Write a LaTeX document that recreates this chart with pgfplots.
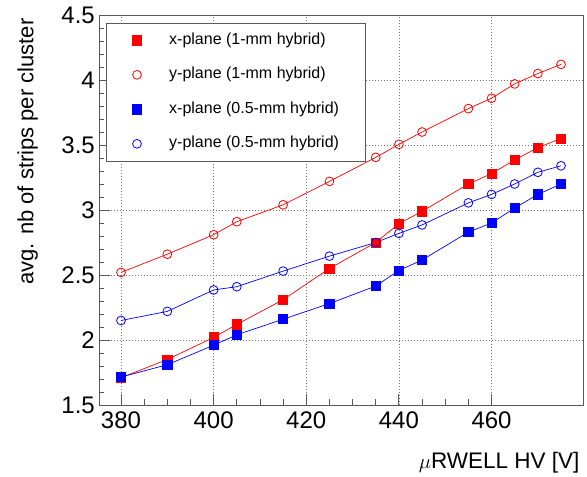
\documentclass[border=0pt]{standalone}
\usepackage{pgfplots}
\pgfplotsset{compat=1.18}
\usepackage{pgfplotstable}
\usepackage{fontspec}
\setmainfont{Liberation Sans}

\pgfplotstableread{
hv val
380 1.71
390 1.85
400 2.02
405 2.12
415 2.31
425 2.55
435 2.75
440 2.895
445 2.99
455 3.20
460 3.28
465 3.385
470 3.48
475 3.55
}\xone
\pgfplotstableread{
hv val
380 2.52
390 2.66
400 2.81
405 2.91
415 3.04
425 3.22
435 3.405
440 3.505
445 3.60
455 3.78
460 3.86
465 3.97
470 4.05
475 4.12
}\yone
\pgfplotstableread{
hv val
380 1.715
390 1.81
400 1.96
405 2.04
415 2.16
425 2.28
435 2.415
440 2.535
445 2.615
455 2.83
460 2.90
465 3.015
470 3.12
475 3.20
}\xhalf
\pgfplotstableread{
hv val
380 2.15
390 2.22
400 2.385
405 2.41
415 2.53
425 2.645
435 2.75
440 2.82
445 2.885
455 3.055
460 3.12
465 3.20
470 3.29
475 3.34
}\yhalf

\begin{document}
\begin{tikzpicture}
\path[use as bounding box] (-99pt,-72pt) rectangle (488pt,405pt);
\begin{axis}[
  at={(0pt,0pt)}, anchor=south west,
  scale only axis, width=484pt, height=390pt,
  xmin=375.25, xmax=479.75, ymin=1.5, ymax=4.5,
  xtick={380,400,420,440,460},
  ytick={1.5,2,2.5,3,3.5,4,4.5},
  minor x tick num=3, minor y tick num=4,
  tick align=inside, tick pos=left,
  major tick length=11pt, minor tick length=5.5pt,
  axis line style={black!65, line width=0.8pt},
  every tick/.style={black!65, line width=0.8pt},
  grid=major,
  major grid style={black!55, line width=0.6pt, dash pattern=on 1pt off 2pt},
  /pgf/number format/assume math mode=true,
  ticklabel style={font=\fontsize{24}{28}\selectfont},
  yticklabel style={inner sep=0pt, xshift=-4pt},
  xticklabel style={inner sep=0pt, yshift=-6.5pt},
  xlabel={$\mu$RWELL HV [V]},
  ylabel={avg. nb of strips per cluster},
  every axis x label/.style={at={(axis description cs:1,-0.1641)}, anchor=base east, font=\fontsize{22.5}{26}\selectfont},
  every axis y label/.style={at={(axis description cs:-0.1357,1)}, rotate=90, anchor=base east, font=\fontsize{22}{26}\selectfont},
  legend style={at={(axis description cs:0.0145,0.9803)}, anchor=north west,
    draw=black!65, line width=0.8pt, fill=white,
    inner xsep=26pt, inner ysep=9.5pt, row sep=19pt,
    font=\fontsize{16}{18}\selectfont,
    nodes={inner sep=0pt, text height=11.5pt, text depth=4pt},
    /tikz/every odd column/.append style={column sep=27.6pt}},
  legend cell align=left,
  legend image code/.code={\draw[#1] plot coordinates {(0pt,0pt)};},
]
\addlegendimage{only marks, mark=square*, mark size=4.6pt, red, line width=0.8pt}
\addlegendentry{x-plane (1-mm hybrid)}
\addlegendimage{only marks, mark=o, mark size=4.4pt, red, line width=0.8pt}
\addlegendentry{y-plane (1-mm hybrid)}
\addlegendimage{only marks, mark=square*, mark size=4.6pt, blue, line width=0.8pt}
\addlegendentry{x-plane (0.5-mm hybrid)}
\addlegendimage{only marks, mark=o, mark size=4.4pt, blue, line width=0.8pt}
\addlegendentry{y-plane (0.5-mm hybrid)}

\addplot[forget plot, red, line width=0.7pt, mark=square*, mark size=4.6pt, mark options={solid}] table[x=hv, y=val] {\xone};
\addplot[forget plot, red, line width=0.7pt, mark=o, mark size=4.4pt, mark options={solid, line width=0.8pt}] table[x=hv, y=val] {\yone};
\addplot[forget plot, blue, line width=0.7pt, mark=square*, mark size=4.6pt, mark options={solid}] table[x=hv, y=val] {\xhalf};
\addplot[forget plot, blue, line width=0.7pt, mark=o, mark size=4.4pt, mark options={solid, line width=0.8pt}] table[x=hv, y=val] {\yhalf};
\end{axis}
\end{tikzpicture}
\end{document}
